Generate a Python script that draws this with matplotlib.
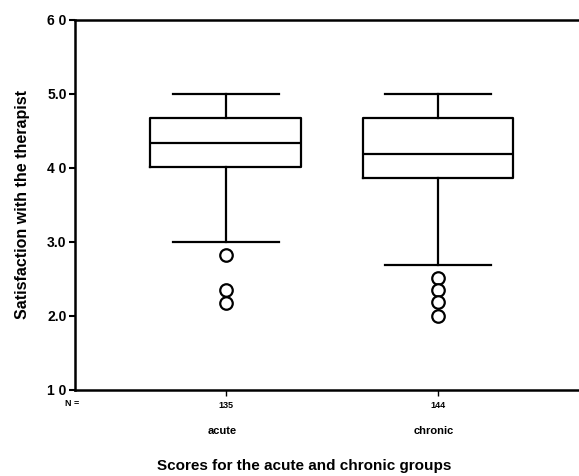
import matplotlib
matplotlib.use('Agg')
import matplotlib.pyplot as plt

plt.rcParams['font.family'] = ['Liberation Sans', 'DejaVu Sans']
plt.rcParams['font.weight'] = 'bold'

# groups and summary values
groups = ['acute', 'chronic']
counts = [135, 144]
whisker_hi = [5.0, 5.0]
q3 = [4.67, 4.68]
medians = [4.34, 4.19]
q1 = [4.01, 3.86]
whisker_lo = [3.0, 2.69]
outliers = [[2.83, 2.35, 2.17], [2.51, 2.35, 2.19, 2.0]]

yticks = [1.0, 2.0, 3.0, 4.0, 5.0, 6.0]
ytick_labels = ['1 0', '2.0', '3.0', '4 0', '5.0', '6 0']

stats = []
for i in range(len(groups)):
    stats.append({'med': medians[i], 'q1': q1[i], 'q3': q3[i],
                  'whislo': whisker_lo[i], 'whishi': whisker_hi[i],
                  'fliers': outliers[i], 'label': groups[i]})

fig = plt.figure(figsize=(5.79, 4.76), dpi=100)
ax = fig.add_axes([0.1295, 0.1807, 0.8705, 0.7773])

line = dict(color='black', linewidth=1.6)
ax.bxp(stats, positions=[1, 2], widths=0.712, showfliers=True,
       boxprops=line, medianprops=line, whiskerprops=line,
       capprops=line, capwidths=0.5,
       flierprops=dict(marker='o', markersize=9, markerfacecolor='white',
                       markeredgecolor='black', markeredgewidth=1.6,
                       linestyle='none'))

ax.set_xlim(0.288, 2.665)
ax.set_ylim(1.0, 6.0)
ax.set_yticks(yticks)
ax.set_yticklabels(ytick_labels, fontsize=10, fontweight='bold')
ax.set_xticks([1, 2])
ax.set_xticklabels([str(n) for n in counts], fontsize=6.5, fontweight='bold')
ax.tick_params(axis='y', length=4, width=1.5, pad=2)
ax.tick_params(axis='x', length=4, width=1.0, pad=4)

for s in ['left', 'bottom', 'top']:
    ax.spines[s].set_linewidth(1.8)
ax.spines['right'].set_visible(False)

ax.set_ylabel('Satisfaction with the therapist', fontsize=11.5,
              fontweight='bold', labelpad=12)

# group names under the counts
for i, g in enumerate(groups):
    ax.text(i + 0.98, -0.111, g, transform=ax.get_xaxis_transform(),
            ha='center', va='center', fontsize=8, fontweight='bold')
fig.text(72 / 579, 1 - 403 / 476, 'N =', ha='center', va='center',
         fontsize=6.5, fontweight='bold')

fig.text(304 / 579, 1 - 466 / 476, 'Scores for the acute and chronic groups',
         ha='center', va='center', fontsize=11, fontweight='bold')

fig.savefig('out.png', dpi=100)
